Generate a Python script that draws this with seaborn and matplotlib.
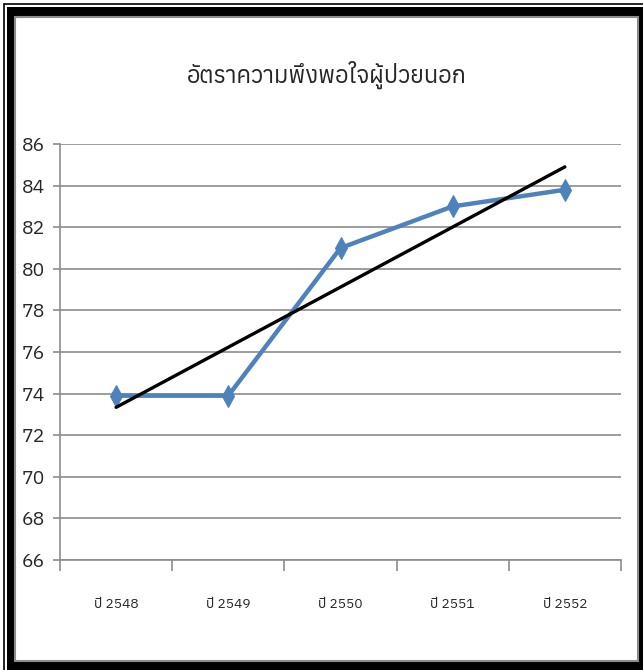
import numpy as np
import matplotlib
matplotlib.use('Agg')
import matplotlib.pyplot as plt
import seaborn as sns
from matplotlib import font_manager as fm
from matplotlib.patches import Rectangle
from matplotlib.ticker import FixedLocator
from fontTools.ttLib import TTFont

# ── Data ────────────────────────────────────────────────────────────────────
years = ['ปี 2548', 'ปี 2549', 'ปี 2550', 'ปี 2551', 'ปี 2552']
satisfaction = [73.9, 73.9, 81.0, 83.0, 83.8]
title = 'อัตราความพึงพอใจผู้ป่วยนอก'
y_ticks = list(range(66, 87, 2))

# ── Find a font that can draw Thai ──────────────────────────────────────────
def has_thai(path):
    try:
        f = TTFont(path, fontNumber=0, lazy=True)
        return 0x0E2D in f.getBestCmap()
    except Exception:
        return False

thai_fonts = sorted({f.name for f in fm.fontManager.ttflist if has_thai(f.fname)})
thai_family = thai_fonts[:1] + ['DejaVu Sans']

sns.set_style('white')
plt.rcParams['font.family'] = ['Liberation Sans Narrow'] + thai_family

W, H = 643, 670
fig = plt.figure(figsize=(W / 100, H / 100), dpi=100)

def px(x0, y0, x1, y1):
    # pixel box (top-left origin) -> figure fraction rectangle
    return (x0 / W, 1 - y1 / H), (x1 - x0) / W, (y1 - y0) / H

# frame
(xy, w, h) = px(3.5, 4.5, 660, 700)
fig.patches.append(Rectangle(xy, w, h, transform=fig.transFigure, fill=False,
                             edgecolor='black', lw=1.2, zorder=-10))
(xy, w, h) = px(7, 7, 643, 670)
fig.patches.append(Rectangle(xy, w, h, transform=fig.transFigure,
                             facecolor='black', edgecolor='none', zorder=-9))
(xy, w, h) = px(15.5, 16.5, 638, 661)
fig.patches.append(Rectangle(xy, w, h, transform=fig.transFigure,
                             facecolor='white', edgecolor='#8c8c8c', lw=1.5, zorder=-8))

ax = fig.add_axes([60 / W, 1 - 560 / H, (621 - 60) / W, (560 - 144) / H])
ax.set_facecolor('none')

x = np.arange(len(years))
sns.lineplot(x=x, y=satisfaction, ax=ax, color='#4F81BD', lw=3.2,
             marker='d', markersize=11, markeredgecolor='#4F81BD', zorder=3)

# linear trend line
k, b = np.polyfit(x, satisfaction, 1)
sns.lineplot(x=x, y=k * x + b, ax=ax, color='black', lw=2.4, zorder=4)

ax.set_xlim(-0.5, len(years) - 0.5)
ax.set_ylim(66, 86)
ax.set_yticks(y_ticks)
ax.set_yticklabels([str(v) for v in y_ticks], fontsize=14)
ax.yaxis.grid(True, color='#8c8c8c', lw=1.2)
ax.set_axisbelow(True)

ax.set_xticks(x)
ax.set_xticklabels(years, fontsize=10, family=thai_family)
ax.xaxis.set_minor_locator(FixedLocator(np.arange(-0.5, len(years), 1.0)))
ax.tick_params(axis='x', which='major', length=0, pad=27)
ax.tick_params(axis='x', which='minor', length=8, color='#8c8c8c', width=1.2, direction='out', bottom=True)
ax.tick_params(axis='y', length=5, color='#8c8c8c', width=1.2, direction='out', left=True, pad=6)

for s in ['top', 'right']:
    ax.spines[s].set_visible(False)
for s in ['left', 'bottom']:
    ax.spines[s].set_color('#8c8c8c')
    ax.spines[s].set_linewidth(1.2)

fig.text(327 / W, 1 - 75 / H, title, ha='center', va='center', fontsize=17,
         family=thai_family)

fig.savefig('out.png', dpi=100)
